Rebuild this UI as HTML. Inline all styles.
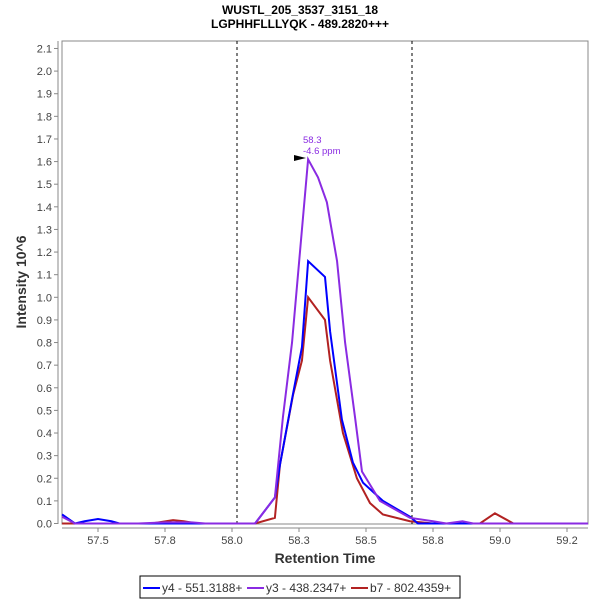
<!DOCTYPE html>
<html><head><meta charset="utf-8"><style>
body{margin:0;background:#fff;font-family:"Liberation Sans",sans-serif}
svg text{font-family:"Liberation Sans",sans-serif}
</style></head><body>
<svg id="c" width="600" height="600">
<text x="300" y="14" text-anchor="middle" font-size="12" font-weight="bold" fill="#000">WUSTL_205_3537_3151_18</text>
<text x="300" y="28" text-anchor="middle" font-size="12" font-weight="bold" fill="#000">LGPHHFLLLYQK - 489.2820+++</text>
<rect x="62" y="41" width="526" height="483" fill="#fff" stroke="#888"/>
<line x1="58" y1="41" x2="58" y2="524" stroke="#888"/>
<line x1="62" y1="528" x2="588" y2="528" stroke="#888"/>
<g id="ticks"></g>
<line x1="237" y1="41" x2="237" y2="524" stroke="#000" stroke-dasharray="3,3"/>
<line x1="412" y1="41" x2="412" y2="524" stroke="#000" stroke-dasharray="3,3"/>
<g id="series"></g>
<polygon points="294,155 306,158 294,161" fill="#000"/>
<text x="303" y="143" font-size="9.5" fill="#8a2be2">58.3</text>
<text x="303" y="154" font-size="9.5" fill="#8a2be2">-4.6 ppm</text>
<text x="325" y="563" text-anchor="middle" font-size="14" font-weight="bold" fill="#333">Retention Time</text>
<text transform="translate(26,282) rotate(-90)" text-anchor="middle" font-size="14" font-weight="bold" fill="#333">Intensity 10^6</text>
<g>
<rect x="140" y="576" width="320" height="22" fill="#fff" stroke="#000"/>
<line x1="143" y1="588" x2="160" y2="588" stroke="#0000ff" stroke-width="2"/>
<text x="162" y="592" font-size="12" fill="#333">y4 - 551.3188+</text>
<line x1="247" y1="588" x2="264" y2="588" stroke="#8a2be2" stroke-width="2"/>
<text x="266" y="592" font-size="12" fill="#333">y3 - 438.2347+</text>
<line x1="351" y1="588" x2="368" y2="588" stroke="#b22222" stroke-width="2"/>
<text x="370" y="592" font-size="12" fill="#333">b7 - 802.4359+</text>
</g>
</svg>
<script>
const yTicks=[0,0.1,0.2,0.3,0.4,0.5,0.6,0.7,0.8,0.9,1.0,1.1,1.2,1.3,1.4,1.5,1.6,1.7,1.8,1.9,2.0,2.1];
const xTicks=[57.5,57.75,58.0,58.25,58.5,58.75,59.0,59.25];
const xTickLabels=["57.5","57.8","58.0","58.3","58.5","58.8","59.0","59.2"];
const y4Times=[57.366,57.414,57.45,57.5,57.55,57.58,58.086,58.16,58.179,58.224,58.261,58.284,58.347,58.366,58.41,58.451,58.489,58.563,58.664,58.694,59.33];
const y4Vals=[0.04,0.0,0.01,0.02,0.01,0.0,0.0,0.115,0.26,0.55,0.78,1.16,1.09,0.85,0.46,0.27,0.18,0.1,0.03,0.0,0.0];
const y3Times=[57.366,57.414,57.65,57.75,57.85,57.9,58.086,58.16,58.19,58.224,58.261,58.284,58.321,58.354,58.392,58.422,58.459,58.485,58.552,58.664,58.75,58.8,58.86,58.9,59.33];
const y3Vals=[0.03,0.0,0.0,0.005,0.005,0.0,0.0,0.115,0.47,0.8,1.3,1.61,1.53,1.42,1.16,0.8,0.47,0.23,0.1,0.025,0.01,0.0,0.01,0.0,0.0];
const b7Times=[57.366,57.7,57.78,57.82,57.87,58.086,58.16,58.179,58.228,58.261,58.284,58.347,58.366,58.414,58.466,58.515,58.563,58.664,58.75,58.925,58.981,59.05,59.33];
const b7Vals=[0.0,0.0,0.015,0.01,0.0,0.0,0.025,0.26,0.57,0.72,1.0,0.9,0.72,0.4,0.2,0.09,0.04,0.01,0.0,0.0,0.045,0.0,0.0];
const X=t=>98+(t-57.5)*268, Y=v=>523.5-v*226.2;
const NS="http://www.w3.org/2000/svg";
const tg=document.getElementById('ticks');
yTicks.forEach(v=>{
  const l=document.createElementNS(NS,'line');
  l.setAttribute('x1',54);l.setAttribute('x2',58);l.setAttribute('y1',Y(v));l.setAttribute('y2',Y(v));l.setAttribute('stroke','#888');
  
  
  tg.appendChild(l);
  const t=document.createElementNS(NS,'text');
  t.setAttribute('x',52);t.setAttribute('y',Y(v)+4);t.setAttribute('text-anchor','end');t.setAttribute('font-size','11');t.setAttribute('fill','#444');
  t.textContent=v.toFixed(1);
  
  
  tg.appendChild(t);
});
xTicks.forEach((v,i)=>{
  const l=document.createElementNS(NS,'line');
  l.setAttribute('x1',X(v));l.setAttribute('x2',X(v));l.setAttribute('y1',528);l.setAttribute('y2',532);l.setAttribute('stroke','#888');
  
  
  tg.appendChild(l);
  const t=document.createElementNS(NS,'text');
  t.setAttribute('x',X(v));t.setAttribute('y',544);t.setAttribute('text-anchor','middle');t.setAttribute('font-size','11');t.setAttribute('fill','#444');
  t.textContent=xTickLabels[i];
  
  
  tg.appendChild(t);
});
const sg=document.getElementById('series');
function line(ts,vs,color,name){
  const p=document.createElementNS(NS,'polyline');
  p.setAttribute('points',ts.map((t,i)=>Math.max(62,Math.min(588,X(t)))+','+Y(vs[i])).join(' '));
  p.setAttribute('fill','none');p.setAttribute('stroke',color);p.setAttribute('stroke-width','2');
  
  
  sg.appendChild(p);
}
line(b7Times,b7Vals,'#b22222','series-b7');
line(y4Times,y4Vals,'#0000ff','series-y4');
line(y3Times,y3Vals,'#8a2be2','series-y3');
</script>
</body></html>
